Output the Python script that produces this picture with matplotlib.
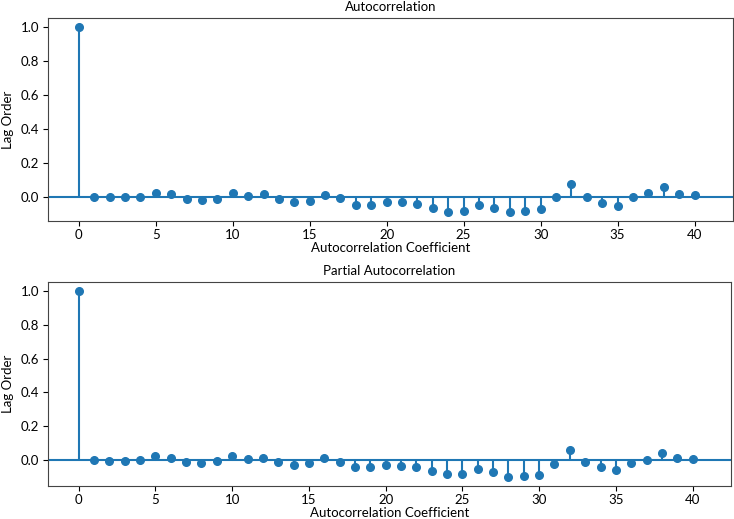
import matplotlib.pyplot as plt
import numpy as np

plt.rcParams['font.family'] = ['Lato', 'DejaVu Sans']
plt.rcParams['font.size'] = 9.5

lags = np.arange(41)

acf_vals = [1.0, -0.002, -0.002, -0.002, -0.001, 0.022, 0.016, -0.008, -0.018, -0.008,
            0.022, 0.004, 0.018, -0.012, -0.031, -0.020, 0.014, -0.006, -0.045, -0.045,
            -0.031, -0.031, -0.039, -0.065, -0.086, -0.080, -0.045, -0.061, -0.086, -0.080,
            -0.071, 0.000, 0.078, 0.000, -0.035, -0.051, -0.002, 0.022, 0.057, 0.018, 0.010]

pacf_vals = [1.0, -0.001, -0.006, -0.006, -0.001, 0.022, 0.008, -0.014, -0.022, -0.006,
             0.022, 0.004, 0.012, -0.014, -0.032, -0.022, 0.012, -0.014, -0.046, -0.042,
             -0.032, -0.036, -0.046, -0.065, -0.085, -0.085, -0.056, -0.071, -0.101, -0.095,
             -0.091, -0.026, 0.056, -0.012, -0.046, -0.060, -0.022, -0.002, 0.038, 0.012, 0.004]

titles = ["Autocorrelation", "Partial Autocorrelation"]

W, H = 734, 519
fig = plt.figure(figsize=(W / 100, H / 100), dpi=100)

# axes boxes in pixels: left, top, right, bottom
boxes = [(48, 18, 733, 221), (48, 282, 731, 486)]

for vals, title, (l, t, r, b) in zip([acf_vals, pacf_vals], titles, boxes):
    ax = fig.add_axes([l / W, 1 - b / H, (r - l) / W, (b - t) / H])
    ax.vlines(lags, 0, vals, color='#1f77b4', linewidth=1.5)
    ax.plot(lags, vals, 'o', color='#1f77b4', markersize=5.5)
    ax.axhline(0, color='#1f77b4', linewidth=1.5)
    ax.margins(x=0.05, y=0.05)
    ax.set_xlim(-2, 42.5)
    ax.tick_params(axis='x', pad=2)
    ax.tick_params(axis='y', pad=3)
    ax.set_title(title, fontsize=9.5, pad=5)
    ax.set_xlabel("Autocorrelation Coefficient", fontsize=9.5, labelpad=1)
    ax.set_ylabel("Lag Order", fontsize=9.5, labelpad=5)
    for s in ax.spines.values():
        s.set_color('#444444')

fig.savefig("out.png", dpi=100)
